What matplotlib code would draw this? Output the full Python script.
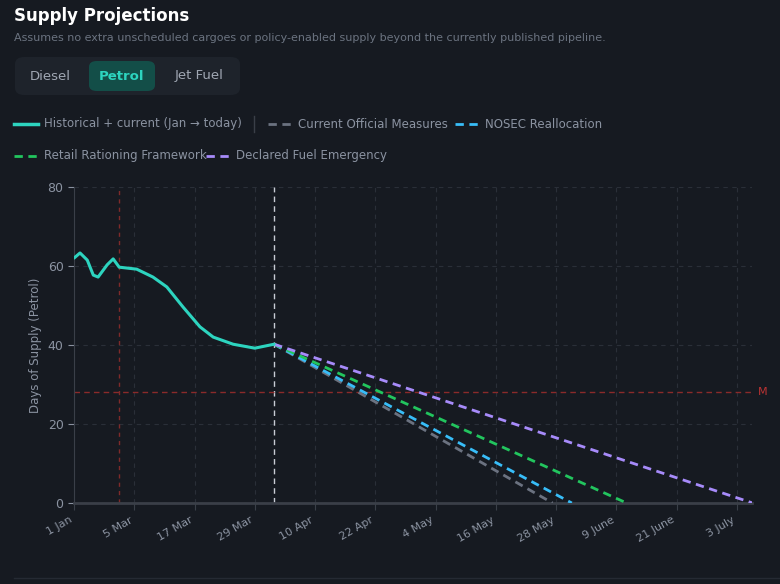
import matplotlib
matplotlib.use("Agg")
import matplotlib.pyplot as plt
import matplotlib.patches as mpatches
from matplotlib.lines import Line2D
import numpy as np

BG = "#161a21"
TEXT = "#8b93a1"

# x in tick-index units (one unit per labelled tick)
tick_labels = ["1 Jan", "5 Mar", "17 Mar", "29 Mar", "10 Apr", "22 Apr", "4 May",
               "16 May", "28 May", "9 June", "21 June", "3 July"]
hist_x = [0.0, 0.1, 0.22, 0.32, 0.4, 0.55, 0.65, 0.75, 1.04, 1.31, 1.54, 1.81,
          2.09, 2.31, 2.64, 3.0, 3.32]
hist_y = [62.0, 63.3, 61.5, 57.7, 57.2, 60.3, 61.8, 59.7, 59.2, 57.2, 54.7, 49.6,
          44.6, 42.0, 40.2, 39.2, 40.2]
today_x = 3.32
today_y = 40.2
scenarios = ["Current Official Measures", "NOSEC Reallocation",
             "Retail Rationing Framework", "Declared Fuel Emergency"]
scenario_zero_x = [7.94, 8.26, 9.17, 11.26]
scenario_colors = ["#6b7280", "#38bdf8", "#22c55e", "#a78bfa"]
marker_x = 0.75
threshold = 28

fig = plt.figure(figsize=(7.8, 5.84), dpi=100, facecolor=BG)
ax = fig.add_axes([74/780, 1-503/584, (752-74)/780, (503-187)/584])
ax.set_facecolor(BG)

ax.plot(hist_x, hist_y, color="#2dd4bf", lw=2.2, solid_capstyle="round", zorder=5)
for zx, c in zip(scenario_zero_x, scenario_colors):
    ax.plot([today_x, zx], [today_y, 0], color=c, lw=2, ls=(0, (3, 2)), zorder=4)

ax.axvline(today_x, color="#c8ccd4", lw=1, ls=(0, (4, 3)))
ax.axvline(marker_x, color="#7f2a2a", lw=1, ls=(0, (3, 3)))
ax.axhline(threshold, color="#8b2a2a", lw=1, ls=(0, (4, 3)))
ax.text(11.35, threshold, "M", color="#b33", fontsize=8, va="center", clip_on=False)

ax.set_xlim(0, 11.25)
ax.set_ylim(0, 80)
ax.set_xticks(range(len(tick_labels)))
ax.set_xticklabels(tick_labels, rotation=30, ha="right", fontsize=8, color=TEXT)
ax.set_yticks([0, 20, 40, 60, 80])
ax.tick_params(axis="y", colors=TEXT, labelsize=9, length=4)
ax.tick_params(axis="x", colors="#3a3f48", labelcolor=TEXT, length=5)
ax.grid(True, color="#2a2f38", lw=0.8, ls=(0, (4, 4)))
for s in ["top", "right"]:
    ax.spines[s].set_visible(False)
ax.spines["left"].set_color("#3a3f48")
ax.spines["bottom"].set_color("#3a3f48")
ax.spines["bottom"].set_linewidth(2)
ax.set_ylabel("Days of Supply (Petrol)", color=TEXT, fontsize=8.5)

# header
fig.text(14/780, 1-16/584, "Supply Projections", color="white", fontsize=12, fontweight="bold", va="center")
fig.text(14/780, 1-38/584, "Assumes no extra unscheduled cargoes or policy-enabled supply beyond the currently published pipeline.",
         color="#6b7380", fontsize=8, va="center")
fig.patches.append(mpatches.FancyBboxPatch((15/780, 1-95/584), 225/780, 38/584,
                   boxstyle="round,pad=0,rounding_size=0.012", transform=fig.transFigure,
                   facecolor="#1e232b", edgecolor="none"))
fig.patches.append(mpatches.FancyBboxPatch((89/780, 1-91/584), 66/780, 30/584,
                   boxstyle="round,pad=0,rounding_size=0.01", transform=fig.transFigure,
                   facecolor="#134e48", edgecolor="none"))
for lbl, xc, col, fw in [("Diesel", 50, "#a0a7b3", "normal"), ("Petrol", 122, "#2dd4bf", "bold"),
                         ("Jet Fuel", 199, "#a0a7b3", "normal")]:
    fig.text(xc/780, 1-76/584, lbl, color=col, fontsize=9.5, ha="center", va="center", fontweight=fw)

# legend
def leg(x0, y, text, color, dashed, lw=2):
    fig.add_artist(Line2D([x0/780, (x0+24)/780], [1-y/584]*2, color=color, lw=lw,
                          ls=(0, (3, 2)) if dashed else "-", transform=fig.transFigure))
    fig.text((x0+30)/780, 1-y/584, text, color=TEXT, fontsize=8.5, va="center")

leg(14, 124, "Historical + current (Jan \u2192 today)", "#2dd4bf", False, 2.5)
fig.add_artist(Line2D([254/780]*2, [1-116/584, 1-132/584], color="#3a3f48", lw=1, transform=fig.transFigure))
leg(268, 124, scenarios[0], scenario_colors[0], True)
leg(455, 124, scenarios[1], scenario_colors[1], True)
leg(14, 156, scenarios[2], scenario_colors[2], True)
leg(206, 156, scenarios[3], scenario_colors[3], True)

fig.add_artist(Line2D([14/780, 766/580], [1-578/584]*2, color="#252a33", lw=1, transform=fig.transFigure))

fig.savefig("out.png", dpi=100, facecolor=BG)
